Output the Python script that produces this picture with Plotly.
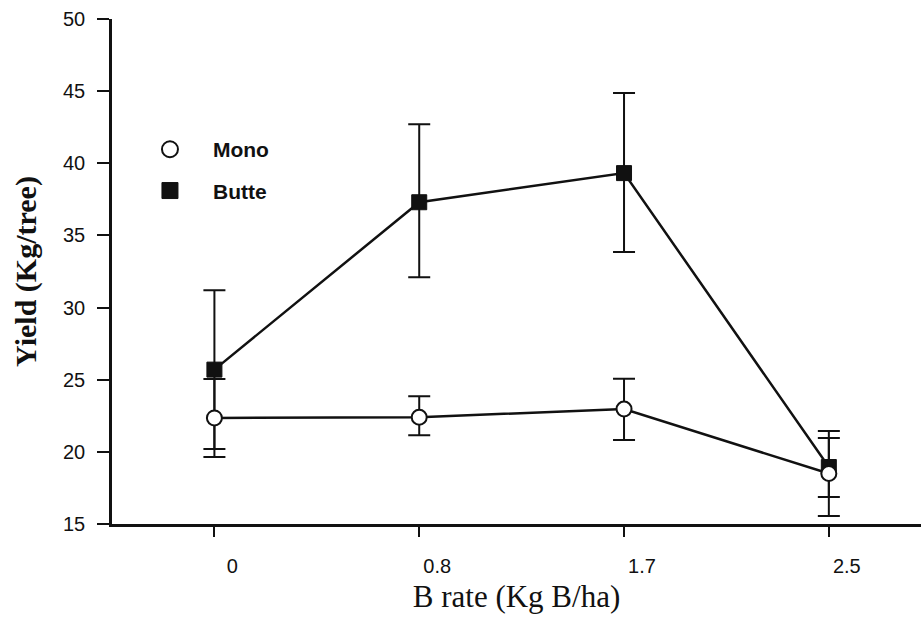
import plotly.graph_objects as go

# Data
b_rates = ["0", "0.8", "1.7", "2.5"]
mono_yield = [22.35, 22.4, 22.97, 18.5]
mono_err_plus = [2.7, 1.45, 2.1, 2.46]
mono_err_minus = [2.7, 1.25, 2.15, 2.95]
butte_yield = [25.7, 37.3, 39.32, 18.95]
butte_err_plus = [5.5, 5.4, 5.55, 2.5]
butte_err_minus = [5.5, 5.2, 5.47, 2.08]

y_ticks = [15, 20, 25, 30, 35, 40, 45, 50]

INK = "#111111"

fig = go.Figure()

fig.add_trace(go.Scatter(
    x=b_rates, y=butte_yield, mode="lines+markers", name="Butte",
    showlegend=False,
    line=dict(color=INK, width=2.5),
    marker=dict(symbol="square", size=15, color=INK, line=dict(color=INK, width=1)),
    error_y=dict(type="data", symmetric=False, array=butte_err_plus,
                 arrayminus=butte_err_minus, color=INK, thickness=2, width=11),
))
fig.add_trace(go.Scatter(
    x=b_rates, y=mono_yield, mode="lines+markers", name="Mono",
    showlegend=False,
    line=dict(color=INK, width=2.5),
    marker=dict(symbol="circle", size=15, color="white", line=dict(color=INK, width=2)),
    error_y=dict(type="data", symmetric=False, array=mono_err_plus,
                 arrayminus=mono_err_minus, color=INK, thickness=2, width=11),
))

# Legend-only entries (markers only, like the original key)
fig.add_trace(go.Scatter(
    x=[None], y=[None], mode="markers", name="Mono", legendgroup="m",
    marker=dict(symbol="circle", size=16, color="white", line=dict(color=INK, width=2)),
))
fig.add_trace(go.Scatter(
    x=[None], y=[None], mode="markers", name="Butte", legendgroup="b",
    marker=dict(symbol="square", size=16, color=INK, line=dict(color=INK, width=1)),
))

fig.update_layout(
    width=921, height=623,
    margin=dict(l=112, r=0, t=19, b=99),
    plot_bgcolor="white", paper_bgcolor="white",
    font=dict(family="Liberation Sans, Arial, sans-serif", color=INK, size=20),
    showlegend=True,
    legend=dict(
        x=0.0185, y=0.782, xanchor="left", yanchor="top",
        bgcolor="rgba(0,0,0,0)", borderwidth=0,
        font=dict(family="Liberation Sans, Arial, sans-serif", size=21, color=INK, weight="bold"),
        itemwidth=76, tracegroupgap=11,
        traceorder="grouped",
    ),
    xaxis=dict(
        type="category", range=[-0.5, 3.45],
        showline=True, linecolor=INK, linewidth=2.5,
        ticks="outside", ticklen=10, tickwidth=1.5, tickcolor=INK,
        ticklabelshift=18, ticklabelstandoff=12,
        tickfont=dict(size=20),
        showgrid=False, zeroline=False,
        title=dict(text="B rate (Kg B/ha)", standoff=10,
                   font=dict(family="Liberation Serif, Times New Roman, serif", size=31, color=INK)),
    ),
    yaxis=dict(
        range=[15, 50], tickvals=y_ticks,
        showline=True, linecolor=INK, linewidth=2.5,
        ticks="outside", ticklen=12, tickwidth=2, tickcolor=INK,
        ticklabelstandoff=8,
        tickfont=dict(size=20),
        showgrid=False, zeroline=False,
        title=dict(text="<b>Yield (Kg/tree)</b>", standoff=18,
                   font=dict(family="Liberation Serif, Times New Roman, serif", size=30, color=INK)),
    ),
)

fig.write_html("out.html")
